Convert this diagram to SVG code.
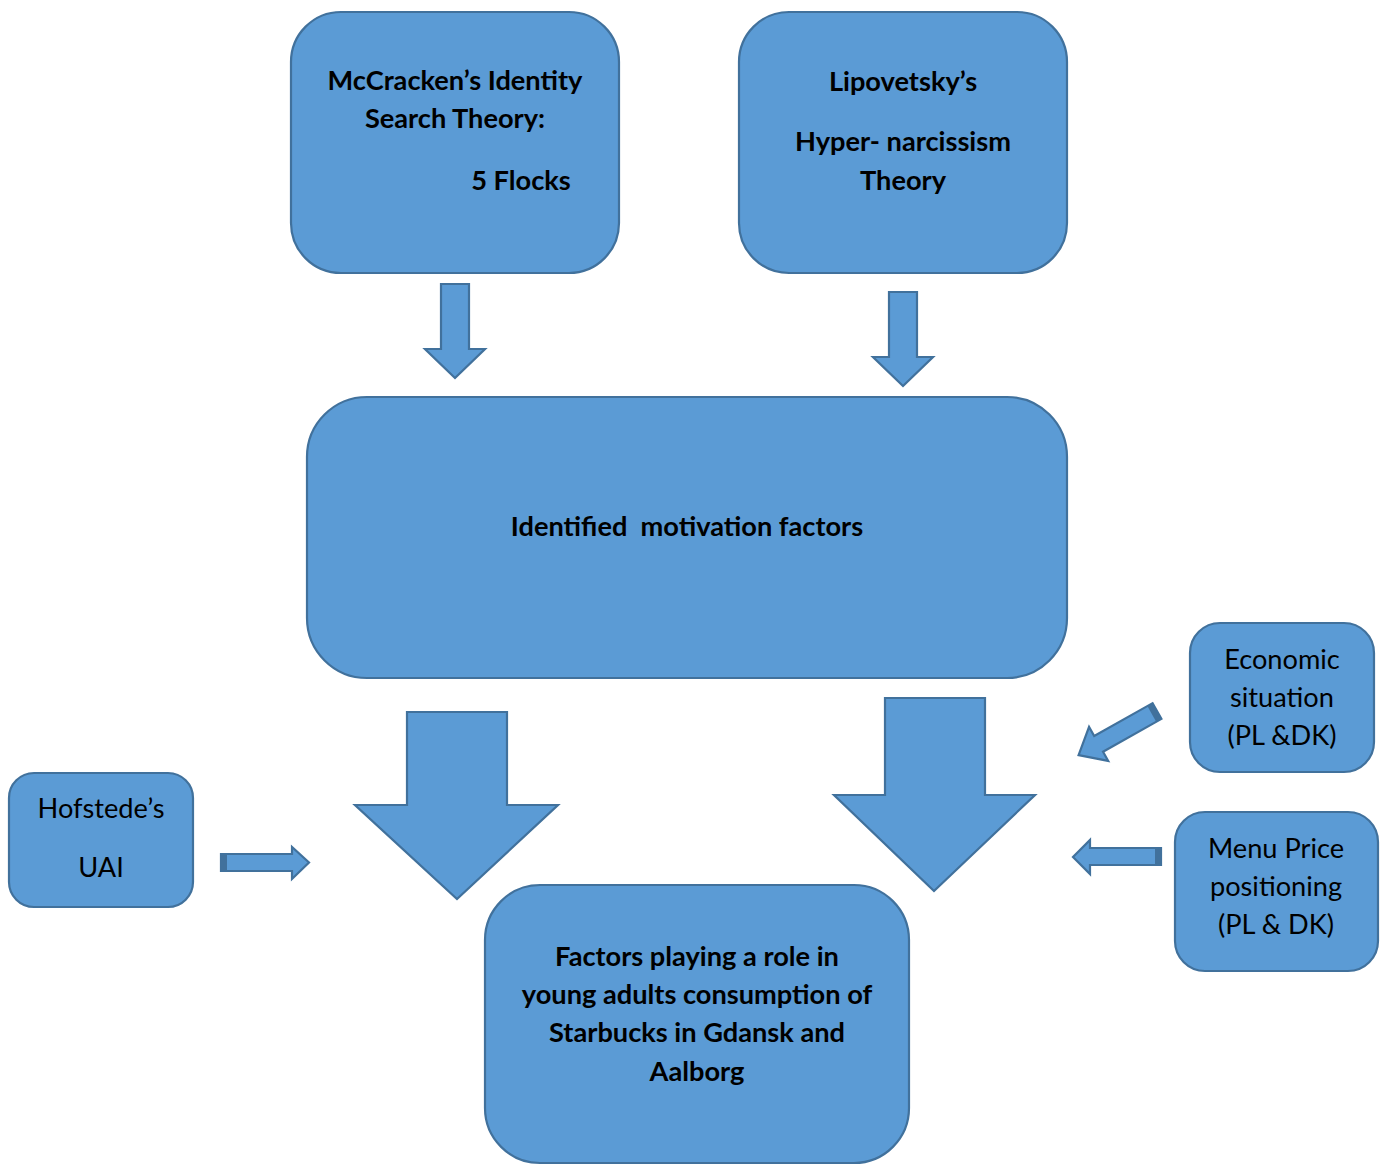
<svg xmlns="http://www.w3.org/2000/svg" width="1380" height="1166" viewBox="0 0 1380 1166">
<style>
.box{fill:#5B9BD5;stroke:#41719C;stroke-width:2.2}
.arr{fill:#5B9BD5;stroke:#41719C;stroke-width:2.2;stroke-linejoin:miter}
.band{fill:#41719C}
.t{font-family:Lato,"Liberation Sans",sans-serif;font-size:27.2px;fill:#000;text-anchor:middle}
.b{font-weight:bold}
</style>
<rect width="1380" height="1166" fill="#fff"/>
<g id="mccracken">
<rect class="box" x="291" y="12" width="328" height="261" rx="50"/>
<text class="t b" x="455" y="90">McCracken’s Identity</text>
<text class="t b" x="455" y="128">Search Theory:</text>
<text class="t b" x="521" y="190">5 Flocks</text>
</g>
<g id="lipovetsky">
<rect class="box" x="739" y="12" width="328" height="261" rx="50"/>
<text class="t b" x="903" y="91">Lipovetsky’s</text>
<text class="t b" x="903" y="151">Hyper- narcissism</text>
<text class="t b" x="903" y="190">Theory</text>
</g>
<g id="identified">
<rect class="box" x="307" y="397" width="760" height="281" rx="60"/>
<text class="t b" x="687" y="536" xml:space="preserve">Identified  motivation factors</text>
</g>
<g id="economic">
<rect class="box" x="1190" y="623" width="184" height="149" rx="30"/>
<text class="t" x="1282" y="669">Economic</text>
<text class="t" x="1282" y="707">situation</text>
<text class="t" x="1282" y="745">(PL &amp;DK)</text>
</g>
<g id="menu">
<rect class="box" x="1175" y="812" width="203" height="159" rx="30"/>
<text class="t" x="1276" y="858">Menu Price</text>
<text class="t" x="1276" y="896">positioning</text>
<text class="t" x="1276" y="934">(PL &amp; DK)</text>
</g>
<g id="hofstede">
<rect class="box" x="9" y="773" width="184" height="134" rx="25"/>
<text class="t" x="101" y="818">Hofstede’s</text>
<text class="t" x="101" y="877">UAI</text>
</g>
<g id="factors">
<rect class="box" x="485" y="885" width="424" height="278" rx="55"/>
<text class="t b" x="697" y="966">Factors playing a role in</text>
<text class="t b" x="697" y="1004">young adults consumption of</text>
<text class="t b" x="697" y="1042">Starbucks in Gdansk and</text>
<text class="t b" x="697" y="1081">Aalborg</text>
</g>
<g id="connectors">
<polygon class="arr" points="441,284 469,284 469,349 485,349 455,378 425,349 441,349"/>
<polygon class="arr" points="889,292 917,292 917,357 933,357 903,386 873,357 889,357"/>
<polygon class="arr" points="407,712 507,712 507,805 558,805 457,899 355,805 407,805"/>
<polygon class="arr" points="885,698 985,698 985,795 1035,795 934,891 834,795 885,795"/>
<g>
<polygon class="arr" points="221,854 292,854 292,847 309,862.5 292,879 292,871 221,871"/>
<rect class="band" x="221" y="854" width="6" height="17"/>
</g>
<g>
<polygon class="arr" points="1161,848 1090,848 1090,840 1073,857 1090,874 1090,865 1161,865"/>
<rect class="band" x="1155" y="848" width="6" height="17"/>
</g>
<g transform="translate(1157,711) rotate(150.6)">
<polygon class="arr" points="0,-9 67,-9 67,-19.5 90,0 67,19.5 67,9 0,9"/>
<rect class="band" x="0" y="-9" width="6" height="18"/>
</g>
</g>
</svg>
